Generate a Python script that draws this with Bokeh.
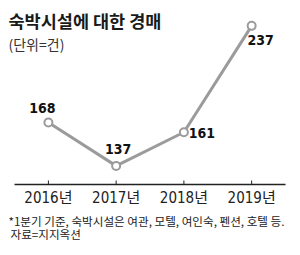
import math
from bokeh.plotting import figure
from bokeh.models import Range1d, Label, ColumnDataSource
from bokeh.core.properties import value
from bokeh.embed import file_html
from bokeh.resources import INLINE

# ---- data ----
years = [2016, 2017, 2018, 2019]
counts = [168, 137, 161, 237]
tick_labels = ["2016년", "2017년", "2018년", "2019년"]
title_text = "숙박시설에 대한 경매"
unit_text = "(단위=건)"
note_lines = ["*1분기 기준, 숙박시설은 여관, 모텔, 여인숙, 펜션, 호텔 등.", "자료=지지옥션"]

# ---- layout / style ----
label_dx = [-6, 2, 18, 9]      # screen px
label_dy = [-14, -17, 1, 14]   # screen px, positive = down
BASE = 123.7                   # axis baseline, in value units
NUM_FONT = "'DejaVu Sans Condensed', 'Noto Sans CJK KR', sans-serif"
KR_FONT = "'Noto Sans CJK KR', sans-serif"
LINE_GRAY = "#9b9b9b"

p = figure(width=300, height=255,
           x_range=Range1d(2015.293, 2019.721), y_range=Range1d(73.0, 255.1),
           output_backend="svg", toolbar_location=None, min_border=0,
           x_axis_location=None, y_axis_location=None)
p.grid.visible = False
p.outline_line_color = None
p.background_fill_color = "white"
p.border_fill_color = "white"

# axis baseline and ticks
p.segment(x0=[years[0] - 0.5], y0=[BASE], x1=[years[-1] + 0.5], y1=[BASE],
          line_color="#222222", line_width=1.6)
p.ray(x=years, y=[BASE] * len(years), length=4, length_units="screen",
      angle=math.pi / 2, line_color="#222222", line_width=1)
p.text(x=years, y=[BASE] * len(years), text=tick_labels, text_align="center",
       text_baseline="middle", y_offset=13, text_font=value(NUM_FONT),
       text_font_size="15px", text_color="#222222")

# data line
src = ColumnDataSource(dict(x=years, y=counts, lbl=[str(c) for c in counts],
                            dx=label_dx, dy=label_dy))
p.line("x", "y", source=src, line_color=LINE_GRAY, line_width=3)
p.scatter("x", "y", source=src, size=8, fill_color="white",
          line_color=LINE_GRAY, line_width=2)
p.text("x", "y", text="lbl", source=src, x_offset="dx", y_offset="dy",
       text_align="center", text_baseline="middle", text_font=value(NUM_FONT),
       text_font_style="bold", text_font_size="14px", text_color="#111111")

# titles and notes
p.add_layout(Label(x=8, y=235, x_units="screen", y_units="screen", text=title_text,
                   text_baseline="middle", text_font=KR_FONT, text_font_style="bold",
                   text_font_size="17.5px", text_color="#1a1a1a"))
p.add_layout(Label(x=8, y=212, x_units="screen", y_units="screen", text=unit_text,
                   text_baseline="middle", text_font=KR_FONT,
                   text_font_size="14px", text_color="#333333"))
for i, line in enumerate(note_lines):
    p.add_layout(Label(x=8 if i == 0 else 10, y=35 - 13 * i, x_units="screen", y_units="screen",
                       text=line, text_baseline="middle", text_font=KR_FONT,
                       text_font_size="11.6px", text_color="#222222"))

open("out.html", "w").write(file_html(p, INLINE))
